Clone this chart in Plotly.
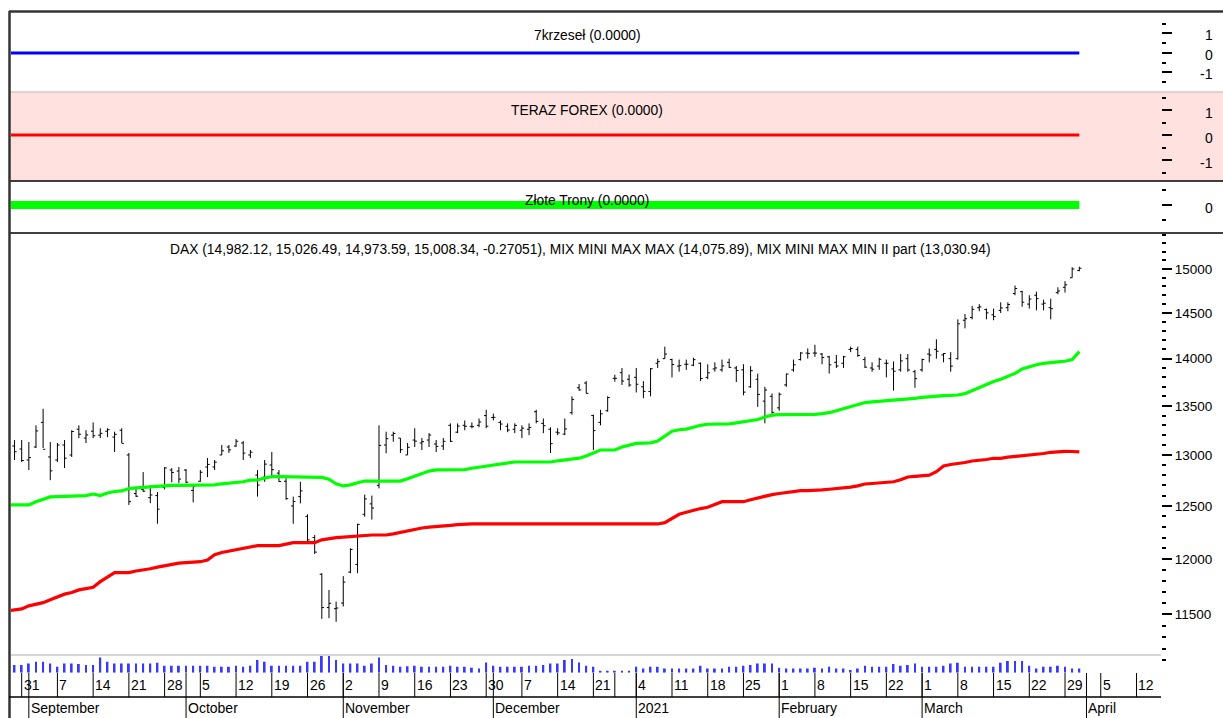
import numpy as np
import pandas as pd
import plotly.graph_objects as go

# Xetra trading days on the chart (Aug 27 sits just off the left edge)
holidays = ["2020-12-24", "2020-12-25", "2020-12-31", "2021-01-01"]
dates = [d for d in pd.bdate_range("2020-08-27", "2021-03-31")
         if d.strftime("%Y-%m-%d") not in holidays]
future_dates = list(pd.bdate_range("2021-04-01", "2021-04-16"))

# DAX daily bars
open_ = [
    13150, 13090, 13060,
    12950, 13080, 13330, 12980, 12950, 13100, 13000, 13260, 13170, 13240, 13200,
    13240, 13180, 13250, 13000, 12620, 12660, 12580, 12600, 12680, 12850, 12840,
    12850, 12650, 12740, 12880, 12880, 13000, 13080, 13090, 13120, 13000, 12800,
    12780, 12900, 12820, 12740, 12500, 12590, 12400, 12200, 11860, 11560, 11550,
    11600, 11880, 11950, 12420, 12520, 12700, 13100, 13200, 13170, 13000, 13150,
    13120, 13150, 13110, 13090, 13300, 13230, 13300, 13290, 13300, 13400,
    13380, 13330, 13290, 13260, 13250, 13260, 13440, 13320, 13260, 13230, 13210,
    13430, 13690, 13740, 13400, 13330, 13450, 13790, 13850, 13780,
    13800, 13700, 13650, 13950, 14000, 13990, 13920, 13940, 13930, 13950, 13800,
    13890, 13880, 13960, 13900, 13880, 13700, 13780, 13550, 13600,
    13480, 13720, 13880, 13990, 14060, 14060, 14050, 14020, 13960, 13950, 14100,
    14100, 13990, 13900, 13920, 13950, 13890, 13880, 14000, 13860,
    13880, 14050, 14100, 14040, 14000, 14000, 14420, 14450, 14560, 14540, 14480,
    14530, 14560, 14720, 14740, 14600, 14700, 14600, 14560, 14730, 14790, 14900,
    14982.12,
]
high = [
    13200, 13150, 13150,
    13130, 13300, 13470, 13130, 13120, 13150, 13250, 13300, 13250, 13330, 13270,
    13270, 13235, 13270, 13020, 12672, 12830, 12703, 12635, 12880, 12870, 12880,
    12860, 12700, 12850, 12970, 12950, 13100, 13100, 13160, 13140, 13050, 12850,
    12950, 13030, 12850, 12770, 12590, 12735, 12420, 12224, 11870, 11718, 11613,
    11843, 12100, 12330, 12610, 12600, 13300, 13235, 13235, 13170, 13120, 13270,
    13170, 13220, 13150, 13170, 13320, 13320, 13350, 13330, 13370, 13460,
    13420, 13350, 13320, 13320, 13300, 13320, 13460, 13370, 13280, 13270, 13370,
    13600, 13730, 13760, 13410, 13460, 13600, 13827, 13900, 13830,
    13900, 13760, 13900, 14000, 14130, 14000, 13990, 13990, 14010, 13960, 13940,
    13960, 13990, 14000, 13920, 13940, 13920, 13840, 13700, 13630,
    13640, 13840, 13990, 14070, 14110, 14150, 14060, 14030, 14040, 14030, 14130,
    14130, 14020, 13960, 14010, 13990, 13970, 14050, 14050, 13880,
    14000, 14110, 14210, 14060, 14070, 14430, 14490, 14580, 14600, 14550, 14550,
    14620, 14620, 14810, 14750, 14700, 14740, 14650, 14660, 14790, 14860, 15020,
    15026.49,
]
low = [
    13040, 12950, 12930,
    12850, 13070, 13070, 12750, 12930, 12870, 12980, 13170, 13120, 13170, 13170,
    13180, 13030, 13120, 12510, 12587, 12635, 12527, 12330, 12660, 12730, 12720,
    12720, 12535, 12735, 12780, 12850, 13000, 13020, 13080, 12950, 12970, 12590,
    12735, 12770, 12735, 12560, 12330, 12525, 12160, 12047, 11460, 11466, 11434,
    11570, 11870, 11870, 12397, 12370, 12670, 13017, 13133, 13020, 13000, 13080,
    13050, 13080, 13030, 13050, 13130, 13220, 13250, 13270, 13280, 13270,
    13350, 13250, 13230, 13220, 13170, 13200, 13320, 13220, 13020, 13200, 13200,
    13410, 13660, 13630, 13050, 13300, 13440, 13754, 13720, 13700,
    13640, 13580, 13600, 13900, 14000, 13800, 13860, 13880, 13920, 13760, 13780,
    13860, 13860, 13900, 13750, 13610, 13690, 13490, 13320, 13420,
    13450, 13700, 13860, 13980, 14000, 14020, 13940, 13840, 13900, 13900, 14070,
    14020, 13900, 13860, 13880, 13800, 13660, 13860, 13860, 13690,
    13860, 13960, 14000, 13960, 13860, 13990, 14330, 14430, 14520, 14430, 14420,
    14500, 14520, 14700, 14570, 14550, 14530, 14530, 14430, 14710, 14730, 14900,
    14973.59,
]
close = [
    13096, 13033, 12945,
    12974, 13243, 13057, 12842, 13100, 12968, 13237, 13209, 13202, 13194, 13218,
    13255, 13208, 13116, 12542, 12594, 12643, 12606, 12469, 12871, 12826, 12761,
    12731, 12689, 12828, 12906, 12928, 13042, 13051, 13138, 13019, 13028, 12703,
    12909, 12854, 12737, 12570, 12543, 12646, 12178, 12064, 11560, 11598, 11556,
    11789, 12089, 12324, 12568, 12480, 13096, 13164, 13217, 13053, 13077, 13139,
    13134, 13201, 13086, 13137, 13137, 13292, 13290, 13286, 13335, 13291,
    13382, 13313, 13252, 13299, 13271, 13278, 13340, 13296, 13114, 13223, 13263,
    13566, 13667, 13631, 13246, 13418, 13587, 13790, 13761, 13719,
    13727, 13652, 13892, 13968, 14050, 13937, 13925, 13940, 13989, 13788, 13848,
    13900, 13922, 13907, 13873, 13644, 13871, 13620, 13666, 13433,
    13622, 13835, 13934, 14061, 14057, 14060, 14012, 13933, 13921, 14020, 14109,
    14034, 13909, 13887, 13993, 13950, 13865, 13976, 13879, 13786,
    13990, 14039, 14080, 14056, 13920, 14380, 14437, 14541, 14569, 14502, 14461,
    14557, 14596, 14776, 14621, 14657, 14662, 14610, 14549, 14748, 14818, 15000,
    15008.34,
]
dax_change = -0.27051

volume = [
    77, 77, 77,
    93, 110, 110, 93, 60, 93, 93, 87, 77, 77, 153,
    110, 93, 93, 93, 93, 93, 93, 100, 70, 70, 70,
    70, 70, 70, 70, 60, 60, 60, 70, 60, 70, 127,
    110, 70, 70, 70, 70, 70, 110, 110, 167, 167, 127,
    93, 93, 93, 70, 93, 153, 77, 70, 60, 65, 70,
    60, 60, 60, 60, 70, 60, 60, 50, 43, 103,
    70, 60, 60, 60, 60, 70, 70, 77, 93, 93, 127,
    137, 103, 70, 60, 20, 20, 20, 20, 20,
    60, 43, 60, 60, 43, 43, 43, 43, 43, 70, 43,
    43, 43, 60, 60, 70, 77, 93, 93, 93,
    50, 43, 43, 43, 43, 50, 43, 60, 43, 43, 27,
    43, 70, 60, 60, 60, 87, 70, 77, 93,
    60, 60, 60, 70, 93, 100, 60, 60, 60, 60, 60,
    100, 117, 117, 117, 70, 43, 60, 60, 70, 60, 43,
    43,
]

# MIX MINI MAX MAX (green) and MIX MINI MAX MIN II part (red)
mix_max = [
    12510, 12510, 12510,
    12510, 12540, 12565, 12587, 12590, 12592, 12595, 12598, 12600, 12615, 12600,
    12625, 12640, 12645, 12668, 12675, 12680, 12683, 12686, 12698, 12700, 12700,
    12700, 12700, 12700, 12700, 12705, 12715, 12722, 12725, 12735, 12750, 12752,
    12772, 12785, 12785, 12785, 12785, 12785, 12785, 12785, 12778, 12760, 12715,
    12694, 12705, 12725, 12742, 12742, 12742, 12742, 12742, 12742, 12765, 12790,
    12820, 12840, 12851, 12851, 12851, 12851, 12855, 12868, 12878, 12890,
    12900, 12912, 12922, 12930, 12930, 12930, 12930, 12930, 12930, 12942, 12950,
    12955, 12968, 12990, 13020, 13050, 13050, 13050, 13080, 13100,
    13117, 13120, 13122, 13140, 13190, 13240, 13255, 13261, 13280, 13300, 13311,
    13311, 13311, 13315, 13325, 13335, 13348, 13360, 13385, 13405,
    13410, 13410, 13410, 13410, 13410, 13412, 13420, 13430, 13450, 13470, 13492,
    13515, 13535, 13542, 13547, 13550, 13555, 13562, 13570, 13578,
    13590, 13598, 13605, 13608, 13610, 13614, 13628, 13660, 13690, 13730, 13755,
    13780, 13807, 13842, 13890, 13915, 13935, 13950, 13961, 13965, 13972, 13990,
    14075.89,
]
mix_min = [
    11530, 11538, 11548,
    11575, 11590, 11604, 11630, 11658, 11680, 11695, 11718, 11730, 11742, 11793,
    11835, 11875, 11875, 11875, 11890, 11898, 11910, 11925, 11937, 11950, 11962,
    11966, 11970, 11975, 11990, 12040, 12060, 12072, 12085, 12100, 12115, 12124,
    12124, 12124, 12124, 12138, 12152, 12152, 12152, 12152, 12178, 12190, 12199,
    12203, 12208, 12215, 12222, 12224, 12224, 12224, 12235, 12250, 12258, 12275,
    12290, 12298, 12302, 12308, 12314, 12322, 12328, 12328, 12328, 12328,
    12328, 12328, 12328, 12328, 12328, 12328, 12328, 12328, 12328, 12328, 12328,
    12328, 12328, 12328, 12328, 12328, 12328, 12328, 12328, 12328,
    12328, 12328, 12328, 12328, 12340, 12380, 12420, 12440, 12461, 12475, 12487,
    12515, 12541, 12541, 12541, 12541, 12560, 12578, 12595, 12610,
    12620, 12630, 12640, 12648, 12648, 12650, 12655, 12662, 12668, 12675, 12682,
    12695, 12713, 12718, 12723, 12723, 12735, 12755, 12782, 12788,
    12792, 12800, 12834, 12890, 12905, 12912, 12925, 12940, 12945, 12955, 12967,
    12967, 12978, 12985, 12990, 13000, 13008, 13015, 13027, 13033, 13037, 13035,
    13030.94,
]

# upper indicator panes (flat at zero)
krzesel = [0.0] * len(dates)
teraz_forex = [0.0] * len(dates)
zlote_trony = [0.0] * len(dates)

price_range = [10995, 15421]
price_ticks = [11500, 12000, 12500, 13000, 13500, 14000, 14500, 15000]
price_minor = [v for v in range(11100, 15500, 100) if v not in price_ticks]

week_starts = ["2020-08-31", "2020-09-07", "2020-09-14", "2020-09-21", "2020-09-28",
               "2020-10-05", "2020-10-12", "2020-10-19", "2020-10-26", "2020-11-02",
               "2020-11-09", "2020-11-16", "2020-11-23", "2020-11-30", "2020-12-07",
               "2020-12-14", "2020-12-21", "2020-12-28", "2021-01-04", "2021-01-11",
               "2021-01-18", "2021-01-25", "2021-02-01", "2021-02-08", "2021-02-15",
               "2021-02-22", "2021-03-01", "2021-03-08", "2021-03-15", "2021-03-22",
               "2021-03-29", "2021-04-05", "2021-04-12"]
week_labels = ["31", "7", "14", "21", "28", "5", "12", "19", "26", "2", "9", "16", "23",
               "30", "7", "14", "21", "", "4", "11", "18", "25", "1", "8", "15", "22",
               "1", "8", "15", "22", "29", "5", "12"]
month_starts = ["2020-09-01", "2020-10-01", "2020-11-02", "2020-12-01", "2021-01-04",
                "2021-02-01", "2021-03-01", "2021-04-01"]
month_labels = ["September", "October", "November", "December", "2021",
                "February", "March", "April"]

FONT = "Liberation Sans, Arial, sans-serif"
W, H = 1223, 718

all_dates = [d.strftime("%Y-%m-%d") for d in dates] + \
            [d.strftime("%Y-%m-%d") for d in future_dates]
slot = {d: i for i, d in enumerate(all_dates)}
x = list(range(len(dates)))


def py(px):
    """pixel row -> paper y"""
    return 1 - px / H


def pxx(px):
    return px / W


fig = go.Figure()

fig.add_trace(go.Scatter(x=x, y=krzesel, mode="lines", yaxis="y",
                         line=dict(color="#0000FF", width=3)))
fig.add_trace(go.Scatter(x=x, y=teraz_forex, mode="lines", yaxis="y2",
                         line=dict(color="#FF0000", width=3)))
fig.add_trace(go.Scatter(x=x, y=zlote_trony, mode="lines", yaxis="y3",
                         line=dict(color="#00FF00", width=8)))

fig.add_trace(go.Bar(x=x, y=volume, yaxis="y5", width=0.26,
                     marker=dict(color="#3838FF", line=dict(width=0))))

fig.add_trace(go.Scatter(x=x, y=mix_max, mode="lines", yaxis="y4",
                         line=dict(color="#00FF00", width=3.2)))
fig.add_trace(go.Scatter(x=x, y=mix_min, mode="lines", yaxis="y4",
                         line=dict(color="#FF0000", width=3.2)))

fig.add_trace(go.Ohlc(x=x, open=open_, high=high, low=low, close=close, yaxis="y4",
                      increasing=dict(line=dict(color="black", width=1)),
                      decreasing=dict(line=dict(color="black", width=1)),
                      tickwidth=0.3))

x_left, x_right = 11, 1161
fig.update_layout(
    width=W, height=H,
    margin=dict(l=0, r=0, t=0, b=0),
    paper_bgcolor="white", plot_bgcolor="rgba(0,0,0,0)",
    showlegend=False,
    font=dict(family=FONT, size=14, color="black"),
    xaxis=dict(domain=[pxx(x_left), pxx(x_right)], range=[0.505, 161.43],
               showticklabels=False, ticks="", showgrid=False, zeroline=False,
               showline=False, anchor="y4", fixedrange=True,
               rangeslider=dict(visible=False)),
)

tick_style = dict(side="right", anchor="x", ticks="outside", ticklen=10, tickwidth=2,
                  tickcolor="black", showgrid=False, zeroline=False, showline=False,
                  fixedrange=True)


def minor(vals):
    return dict(tickmode="array", tickvals=vals, ticks="outside", ticklen=4,
                tickwidth=2, tickcolor="black", showgrid=False)


fig.update_layout(
    yaxis=dict(domain=[py(92), py(12)], range=[-2.0, 2.1], tickvals=[-1, 0, 1],
               showticklabels=False, minor=minor([-1.5, -0.5, 0.5, 1.5]), **tick_style),
    yaxis2=dict(domain=[py(181), py(92)], range=[-1.84, 1.72], tickvals=[-1, 0, 1],
                showticklabels=False, minor=minor([-1.5, -0.5, 0.5, 1.5]), **tick_style),
    yaxis3=dict(domain=[py(233), py(182)], range=[-0.93, 0.77], tickvals=[0],
                showticklabels=False, minor=minor([-0.5, 0.5]), **tick_style),
    yaxis4=dict(domain=[py(672.7), py(233)], type="log",
                range=[np.log10(price_range[0]), np.log10(price_range[1])],
                tickvals=price_ticks, ticktext=[str(v) for v in price_ticks],
                tickfont=dict(family=FONT, size=13.5), minor=minor(price_minor),
                **tick_style),
    yaxis5=dict(domain=[py(672.7), py(655)], range=[0, 177], visible=False,
                anchor="x", fixedrange=True),
)

shapes = []
# pane backgrounds and frame
shapes.append(dict(type="rect", xref="paper", yref="paper", x0=pxx(9), x1=1,
                   y0=py(181), y1=py(92), fillcolor="#FFE2E0", line=dict(width=0),
                   layer="below"))
for yy, col, wd in [(92, "#D6C6C6", 1.5), (181, "black", 1.5), (233, "black", 1.5)]:
    shapes.append(dict(type="line", xref="paper", yref="paper", x0=pxx(9), x1=1,
                       y0=py(yy), y1=py(yy), line=dict(color=col, width=wd)))
shapes.append(dict(type="line", xref="paper", yref="paper", x0=pxx(9), x1=1,
                   y0=py(11.5), y1=py(11.5), line=dict(color="#333333", width=2.5)))
shapes.append(dict(type="line", xref="paper", yref="paper", x0=pxx(9.5), x1=pxx(9.5),
                   y0=0, y1=py(11), line=dict(color="#333333", width=2.5)))
shapes.append(dict(type="line", xref="paper", yref="paper", x0=pxx(x_left), x1=pxx(x_right),
                   y0=py(655), y1=py(655), line=dict(color="#C8C8C8", width=1.5)))
shapes.append(dict(type="line", xref="paper", yref="paper", x0=pxx(9), x1=pxx(x_right),
                   y0=py(697), y1=py(697), line=dict(color="black", width=1.5)))

annotations = []
# date axis: week ticks and month separators
for d, lab in zip(week_starts, week_labels):
    i = slot[d]
    shapes.append(dict(type="line", xref="x", yref="paper", x0=i, x1=i,
                       y0=py(697), y1=py(673), line=dict(color="black", width=1)))
    if lab:
        annotations.append(dict(x=i, xref="x", y=py(685), yref="paper", text=lab,
                                showarrow=False, xanchor="left", yanchor="middle",
                                xshift=0, font=dict(family=FONT, size=14)))
for d, lab in zip(month_starts, month_labels):
    i = slot[d]
    shapes.append(dict(type="line", xref="x", yref="paper", x0=i, x1=i,
                       y0=0, y1=py(673), line=dict(color="black", width=1)))
    annotations.append(dict(x=i, xref="x", y=py(708), yref="paper", text=lab,
                            showarrow=False, xanchor="left", yanchor="middle",
                            xshift=0, font=dict(family=FONT, size=14)))

# right-aligned labels of the indicator panes
for yref, vals, shift in [("y", [1, 0, -1], -2), ("y2", [1, 0, -1], -3), ("y3", [0], -3)]:
    for v in vals:
        annotations.append(dict(x=pxx(1215), xref="paper", y=v, yref=yref, text=str(v),
                                showarrow=False, xanchor="right", yanchor="middle",
                                yshift=shift, font=dict(family=FONT, size=14)))

# pane titles
title_x = pxx(587)
title_font = dict(family=FONT, size=13.8)
for txt, yy in [(f"7krzeseł ({krzesel[-1]:.4f})", 35),
                (f"TERAZ FOREX ({teraz_forex[-1]:.4f})", 110),
                (f"Złote Trony ({zlote_trony[-1]:.4f})", 200)]:
    annotations.append(dict(x=title_x, xref="paper", y=py(yy), yref="paper", text=txt,
                            showarrow=False, xanchor="center", yanchor="middle",
                            font=title_font))
dax_title = (f"DAX ({open_[-1]:,.2f}, {high[-1]:,.2f}, {low[-1]:,.2f}, {close[-1]:,.2f}, "
             f"{dax_change:.5f}), MIX MINI MAX MAX ({mix_max[-1]:,.2f}), "
             f"MIX MINI MAX MIN II part ({mix_min[-1]:,.2f})")
annotations.append(dict(x=pxx(580), xref="paper", y=py(249), yref="paper", text=dax_title,
                        showarrow=False, xanchor="center", yanchor="middle",
                        font=title_font))

fig.update_layout(shapes=shapes, annotations=annotations)

fig.write_html("out.html", config={"displayModeBar": False},
               post_script="document.body.style.margin = '0';")
